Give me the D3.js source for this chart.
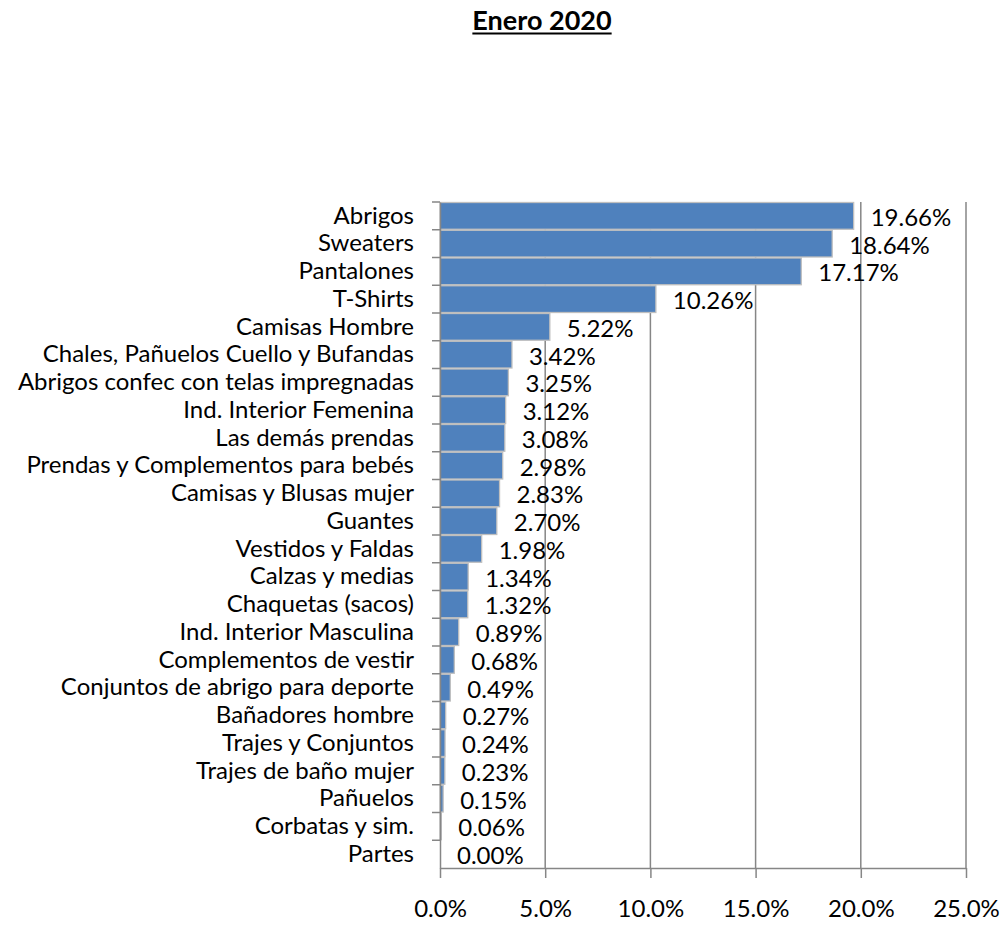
<!DOCTYPE html>
<html>
<head>
<meta charset="utf-8">
<script src="https://cdn.jsdelivr.net/npm/d3@7"></script>
<style>
  body { margin: 0; background: #fff; }
  text { font-family: Lato, "Open Sans", sans-serif; fill: #000; }
</style>
</head>
<body>
<svg id="chart" width="1005" height="925"></svg>
<script>
// ---------------- data ----------------
var categories = [
  "Abrigos", "Sweaters", "Pantalones", "T-Shirts", "Camisas Hombre",
  "Chales, Pañuelos Cuello y Bufandas", "Abrigos confec con telas impregnadas",
  "Ind. Interior Femenina", "Las demás prendas", "Prendas y Complementos para bebés",
  "Camisas y Blusas mujer", "Guantes", "Vestidos y Faldas", "Calzas y medias",
  "Chaquetas (sacos)", "Ind. Interior Masculina", "Complementos de vestir",
  "Conjuntos de abrigo para deporte", "Bañadores hombre", "Trajes y Conjuntos",
  "Trajes de baño mujer", "Pañuelos", "Corbatas y sim.", "Partes"
];
var shares = [19.66, 18.64, 17.17, 10.26, 5.22, 3.42, 3.25, 3.12, 3.08, 2.98,
  2.83, 2.70, 1.98, 1.34, 1.32, 0.89, 0.68, 0.49, 0.27, 0.24, 0.23, 0.15, 0.06, 0.00];
var xTicks = [0, 5, 10, 15, 20, 25];
var title = "Enero 2020";

function draw() {
  var plotLeft = 440, plotRight = 966, plotTop = 202, plotBottom = 868;
  var fs = "24px";

  var svg = d3.select("#chart");

  var x = d3.scaleLinear().domain([0, 25]).range([plotLeft, plotRight]);
  var y = d3.scaleBand().domain(categories).range([plotTop, plotBottom]).padding(0);

  // title
  var t = svg.append("text")
    .attr("x", 542).attr("y", 30)
    .attr("text-anchor", "middle")
    .style("font-size", "27px")
    .style("font-weight", "bold")
    .text(title);
  var bb = t.node().getBBox();
  svg.append("line")
    .attr("x1", bb.x).attr("x2", bb.x + bb.width)
    .attr("y1", 33.5).attr("y2", 33.5)
    .attr("stroke", "#000").attr("stroke-width", 1.8);

  // gridlines
  svg.append("g").selectAll("line")
    .data(xTicks.slice(1))
    .join("line")
    .attr("x1", d => x(d)).attr("x2", d => x(d))
    .attr("y1", plotTop).attr("y2", plotBottom)
    .attr("stroke", "#868686").attr("stroke-width", 1.5);

  // bars
  svg.append("g").selectAll("rect")
    .data(shares)
    .join("rect")
    .attr("x", x(0))
    .attr("y", (d, i) => y(categories[i]) + 0.5)
    .attr("width", d => x(d) - x(0))
    .attr("height", y.bandwidth() - 1)
    .attr("fill", "#4f81bd")
    .attr("stroke", "#bfbfbf")
    .attr("stroke-width", 1.3);

  // value labels
  svg.append("g").selectAll("text")
    .data(shares)
    .join("text")
    .attr("x", d => x(d) + 17)
    .attr("y", (d, i) => y(categories[i]) + y.bandwidth() / 2 + 10)
    .style("font-size", fs)
    .text(d => d.toFixed(2) + "%");

  // y axis
  var ya = svg.append("g")
    .attr("transform", "translate(" + plotLeft + ",0)")
    .call(d3.axisLeft(y).tickSize(0).tickPadding(26));
  ya.select(".domain").attr("stroke", "#868686").attr("stroke-width", 1.5);
  ya.selectAll("text").style("font-size", fs).attr("font-family", null);

  // band boundary ticks
  svg.append("g").selectAll("line")
    .data(d3.range(categories.length))
    .join("line")
    .attr("x1", plotLeft - 8).attr("x2", plotLeft)
    .attr("y1", d => y(categories[d])).attr("y2", d => y(categories[d]))
    .attr("stroke", "#868686").attr("stroke-width", 1.5);

  // x axis
  var xa = svg.append("g")
    .attr("transform", "translate(0," + plotBottom + ")")
    .call(d3.axisBottom(x).tickValues(xTicks).tickSize(10).tickSizeOuter(0).tickPadding(22)
      .tickFormat(d => d.toFixed(1) + "%"));
  xa.select(".domain").attr("stroke", "#868686").attr("stroke-width", 1.5);
  xa.selectAll(".tick line").attr("stroke", "#868686").attr("stroke-width", 1.5);
  xa.selectAll("text").style("font-size", fs).attr("font-family", null);
}
draw();
</script>
</body>
</html>
